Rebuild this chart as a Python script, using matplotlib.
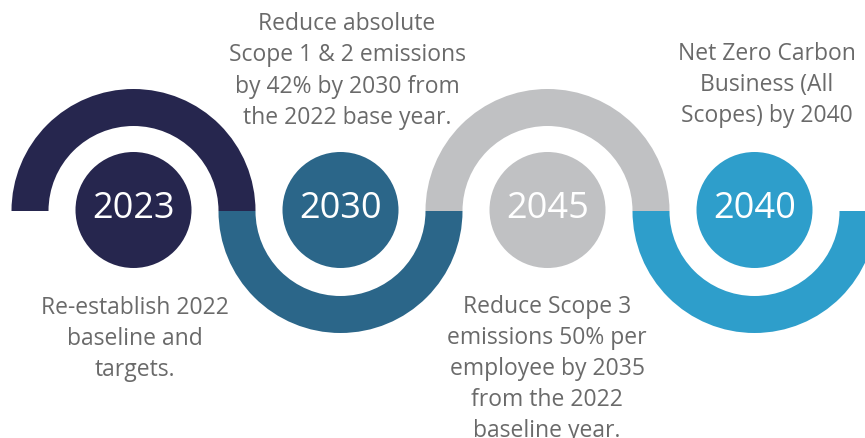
import matplotlib
matplotlib.use("Agg")
import matplotlib.pyplot as plt
from matplotlib.patches import Wedge, Circle

years = ["2023", "2030", "2045", "2040"]
colors = ["#26264e", "#2b6689", "#c0c1c3", "#2e9ecb"]
goals = [
    "Re-establish 2022\nbaseline and\ntargets.",
    "Reduce absolute\nScope 1 & 2 emissions\nby 42% by 2030 from\nthe 2022 base year.",
    "Reduce Scope 3\nemissions 50% per\nemployee by 2035\nfrom the 2022\nbaseline year.",
    "Net Zero Carbon\nBusiness (All\nScopes) by 2040",
]
# label block centres (x, y) in pixels
label_pos = [(135, 339), (347, 71), (547, 369), (767, 85)]

W, H = 865, 439
fig = plt.figure(figsize=(W / 100, H / 100), dpi=100)
ax = fig.add_axes([0, 0, 1, 1])
ax.set_xlim(0, W)
ax.set_ylim(H, 0)
ax.set_aspect("equal")
ax.axis("off")

x0, dx, cy = 133.5, 207, 212
r_out, r_in, r_c = 122, 85, 58
text_col = "#6a6a6a"
font_txt = ["Open Sans", "DejaVu Sans"]
font_num = ["Open Sans", "DejaVu Sans"]

for i, (yr, col, goal) in enumerate(zip(years, colors, goals)):
    cx = x0 + i * dx
    top = (i % 2 == 0)
    # y axis inverted: angles 180..360 are on top of screen
    t1, t2 = (180, 360) if top else (0, 180)
    ax.add_patch(Wedge((cx, cy), r_out, t1, t2, width=r_out - r_in,
                       facecolor=col, edgecolor="none"))
    ax.add_patch(Circle((cx, cy - 1), r_c, facecolor=col, edgecolor="none"))
    ax.text(cx, cy - 3, yr, ha="center", va="center", color="white",
            fontsize=26, family=font_num)
    lx, ly = label_pos[i]
    ax.text(lx, ly, goal, ha="center", va="center", color=text_col,
            fontsize=16.5, family=font_txt, linespacing=1.4)

fig.savefig("out.png", dpi=100, facecolor="white")
